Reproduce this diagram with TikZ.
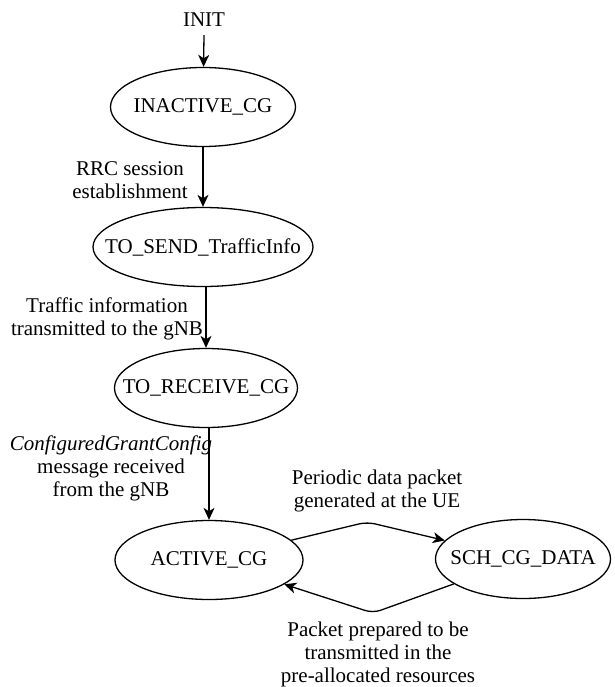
\documentclass[tikz,border=0pt]{standalone}
\usepackage{fontspec}
\setmainfont{Liberation Serif}
\usepackage{tikz}
\usetikzlibrary{arrows.meta, positioning, shapes.geometric}

\newcommand{\statename}[1]{\makebox[0pt]{#1}}

\begin{document}
\begin{tikzpicture}[
		x=1pt, y=-1pt,
		font=\fontsize{21}{23}\selectfont,
		state/.style={draw, ellipse, line width=1.3pt, inner sep=0pt, minimum height=79pt},
		lbl/.style={align=center, inner sep=0pt},
		flow/.style={->, line width=1.3pt, rounded corners=8pt},
		>={Stealth[length=12pt, width=11pt, inset=3.5pt]}
	]
		\useasboundingbox (0,0) rectangle (614,687);

		% States
		\node[inner sep=0pt] (init) at (204, 20) {INIT};
		\node[state, minimum width=185pt] (inactive) at (203, 107) {\statename{INACTIVE\_CG}};
		\node[state, minimum width=220pt] (send) at (203, 247) {\statename{TO\_SEND\_TrafficInfo}};
		\node[state, minimum width=183pt] (receive) at (206, 388) {\statename{TO\_RECEIVE\_CG}};
		\node[state, minimum width=188pt] (active) at (209, 560) {\statename{ACTIVE\_CG}};
		\node[state, minimum width=175pt] (sch) at (523, 559) {\statename{SCH\_CG\_DATA}};

		% Bend points of the loop
		\coordinate (top) at (367, 522);
		\coordinate (bot) at (373, 613);

		% Transitions
		\draw[flow] ([yshift=-8pt]init.south) -- (inactive);
		\draw[flow] (inactive) -- (send);
		\draw[flow] (send.south -| receive.north) -- (receive.north);
		\draw[flow] (receive.south -| active.north) -- (active.north);
		\draw[flow] (active) -- (top) -- (sch);
		\draw[flow] (sch) -- (bot) -- (active);

		% Transition labels
		\node[lbl] (rrc) at (130, 180) {RRC session\\establishment};
		\node[lbl] (traffic) at (107, 319) {Traffic information\\transmitted to the gNB};
		\node[lbl] (config) at (111, 468) {\textit{ConfiguredGrantConfig}\\message received\\from the gNB};
		\node[lbl] (periodic) at (377, 491) {Periodic data packet\\generated at the UE};
		\node[lbl] (packet) at (378, 654) {Packet prepared to be\\transmitted in the\\pre-allocated resources};
	\end{tikzpicture}
\end{document}
